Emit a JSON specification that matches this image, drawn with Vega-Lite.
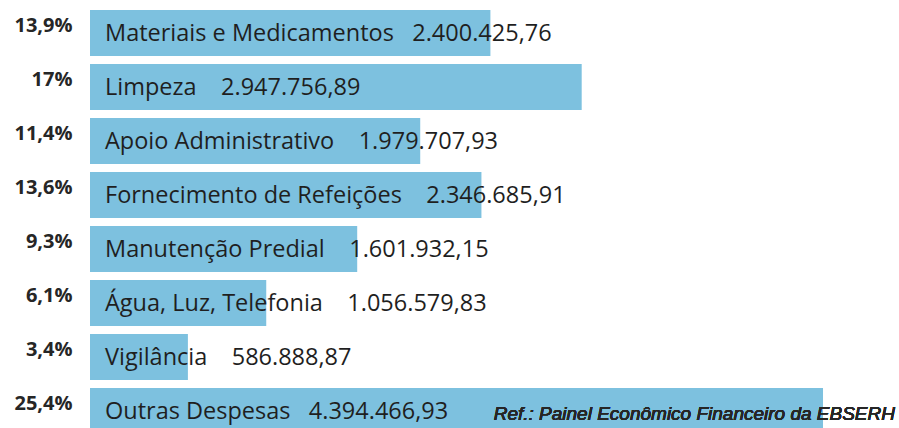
{
  "$schema": "https://vega.github.io/schema/vega-lite/v6.json",
  "width": 809,
  "height": 424,
  "autosize": "none",
  "padding": {"left": 90, "top": 10, "right": 0, "bottom": 0},
  "background": "white",
  "config": {"view": {"stroke": null}},
  "data": {
    "values": [
      {"pct": "13,9%", "category": "Materiais e Medicamentos", "value": 2400425.76, "valueText": "2.400.425,76", "gap": "\u00a0\u00a0\u00a0"},
      {"pct": "17%", "category": "Limpeza", "value": 2947756.89, "valueText": "2.947.756,89", "gap": "\u00a0\u00a0\u00a0\u00a0"},
      {"pct": "11,4%", "category": "Apoio Administrativo", "value": 1979707.93, "valueText": "1.979.707,93", "gap": "\u00a0\u00a0\u00a0\u00a0"},
      {"pct": "13,6%", "category": "Fornecimento de Refeições", "value": 2346685.91, "valueText": "2.346.685,91", "gap": "\u00a0\u00a0\u00a0\u00a0"},
      {"pct": "9,3%", "category": "Manutenção Predial", "value": 1601932.15, "valueText": "1.601.932,15", "gap": "\u00a0\u00a0\u00a0\u00a0"},
      {"pct": "6,1%", "category": "Água, Luz, Telefonia", "value": 1056579.83, "valueText": "1.056.579,83", "gap": "\u00a0\u00a0\u00a0\u00a0"},
      {"pct": "3,4%", "category": "Vigilância", "value": 586888.87, "valueText": "586.888,87", "gap": "\u00a0\u00a0\u00a0\u00a0"},
      {"pct": "25,4%", "category": "Outras Despesas", "value": 4394466.93, "valueText": "4.394.466,93", "gap": "\u00a0\u00a0\u00a0"}
    ]
  },
  "transform": [
    {"calculate": "datum.category + datum.gap + datum.valueText", "as": "label"}
  ],
  "encoding": {
    "y": {
      "field": "pct",
      "type": "nominal",
      "sort": null,
      "scale": {"paddingInner": 0.148, "paddingOuter": 0},
      "axis": {
        "title": null,
        "domain": false,
        "ticks": false,
        "labelPadding": 18,
        "labelOffset": -7,
        "labelFont": "Open Sans",
        "labelFontWeight": "bold",
        "labelFontSize": 20,
        "labelColor": "#262626"
      }
    }
  },
  "layer": [
    {
      "mark": {"type": "bar", "color": "#7DC1DF"},
      "encoding": {
        "x": {
          "field": "value",
          "type": "quantitative",
          "scale": {"domain": [0, 4850000], "nice": false, "zero": true},
          "axis": null
        }
      }
    },
    {
      "mark": {"type": "text", "align": "left", "baseline": "middle", "dx": 15, "dy": 1, "font": "Open Sans", "fontSize": 23.5, "color": "#1F1F1F"},
      "encoding": {
        "x": {"datum": 0, "type": "quantitative"},
        "text": {"field": "label"}
      }
    },
    {
      "mark": {"type": "text", "align": "right", "baseline": "middle", "dx": -4, "dy": 3, "font": "Liberation Sans", "fontStyle": "italic", "fontSize": 19, "color": "#262626", "text": "Ref.: Painel Econômico Financeiro da EBSERH"},
      "encoding": {
        "x": {"datum": 4850000, "type": "quantitative"},
        "y": {"datum": "25,4%"}
      }
    }
  ]
}
